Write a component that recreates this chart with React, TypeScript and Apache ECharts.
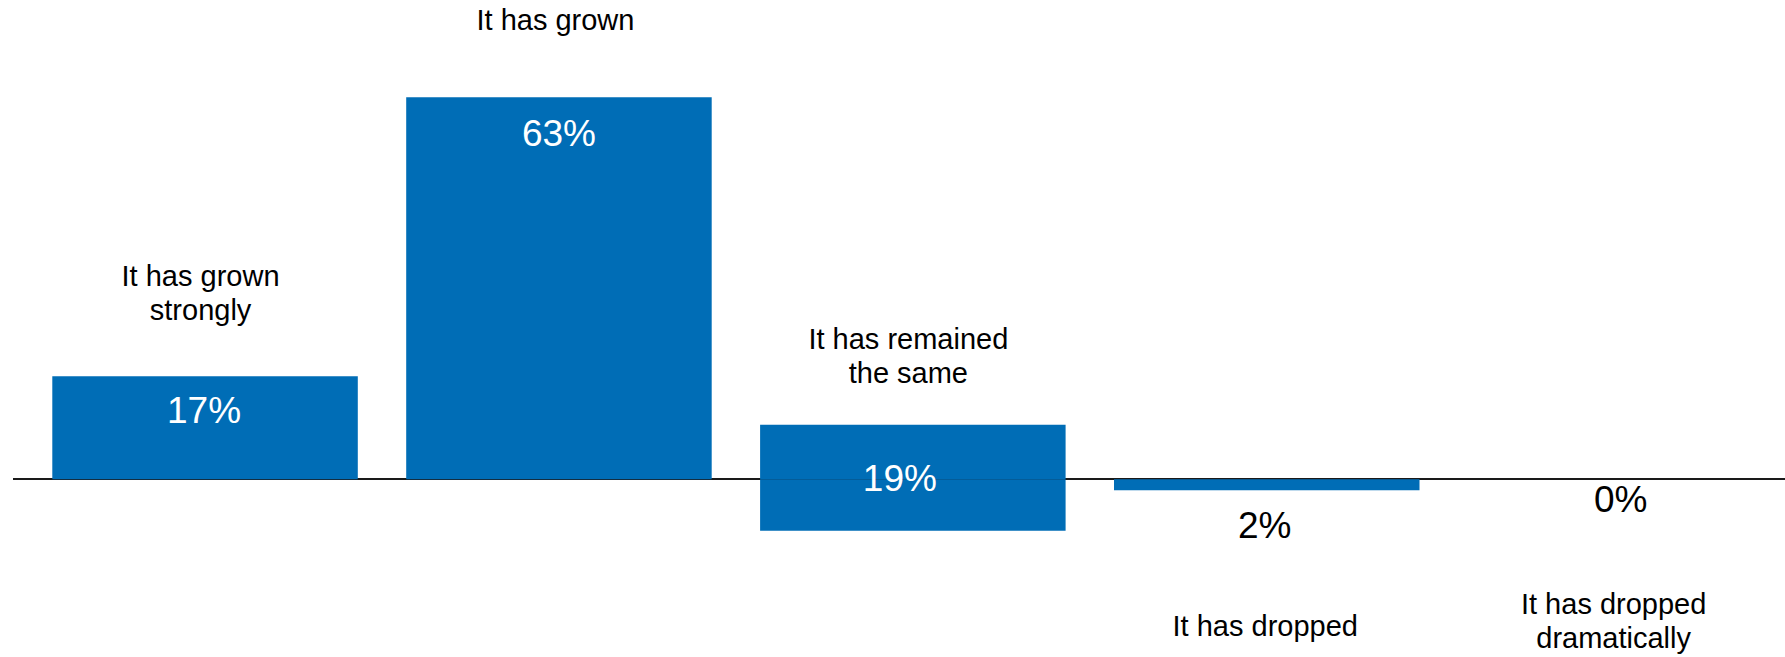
import React, { useEffect, useRef } from "react";
import * as echarts from "echarts";

// Category names (as laid out in the reference, with their line breaks)
const categories = [
  "It has grown\nstrongly",
  "It has grown",
  "It has remained\nthe same",
  "It has dropped",
  "It has dropped\ndramatically",
];
// Printed shares
const shareLabels = ["17%", "63%", "19%", "2%", "0%"];
// Bar extents (percentage points above / below the axis)
const aboveAxis = [17, 63, 9, 0, 0];
const belowAxis = [0, 0, -8.5, -1.8, 0];

const FONT = "'Liberation Sans', Arial, Helvetica, sans-serif";
const BLUE = "#006DB6";
const CHART_W = 1798;

export default function App() {
  const ref = useRef<HTMLDivElement>(null);

  useEffect(() => {
    if (!ref.current) return;
    const chart = echarts.init(ref.current, undefined, { renderer: "svg" });

    const valueLabelBase = {
      show: true,
      fontFamily: FONT,
      fontSize: 37,
      lineHeight: 37,
      color: "#ffffff",
      formatter: (p: any) => shareLabels[p.dataIndex],
    };

    const aboveLabels: any[] = [
      { ...valueLabelBase, position: "insideTop", distance: 15.5, offset: [-1, 0] },
      { ...valueLabelBase, position: "insideTop", distance: 17.5 },
      { ...valueLabelBase, position: "inside", offset: [-13, 26] },
      { show: false },
      { show: false },
    ];
    const belowLabels: any[] = [
      { show: false },
      { show: false },
      { show: false },
      { ...valueLabelBase, color: "#000000", position: "bottom", distance: 17, offset: [-2, 0] },
      { ...valueLabelBase, color: "#000000", position: "bottom", distance: 1.5 },
    ];
    const catLabelBase = {
      show: true,
      fontFamily: FONT,
      fontSize: 29,
      lineHeight: 34,
      color: "#000000",
      align: "center",
      formatter: (p: any) => categories[p.dataIndex],
    };
    const catLabels: any[] = [
      { ...catLabelBase, position: "top", distance: 49, offset: [-4.5, 0] },
      { ...catLabelBase, position: "top", distance: 60, offset: [-3.5, 0] },
      { ...catLabelBase, position: "top", distance: 35, offset: [-4.5, 0] },
      { ...catLabelBase, position: "bottom", distance: 119, offset: [-1.5, 0] },
      { ...catLabelBase, position: "bottom", distance: 108, offset: [-7, 0] },
    ];
    const outerExtent = aboveAxis.map((v, i) => (v > 0 ? v : belowAxis[i]));

    chart.setOption({
      animation: false,
      backgroundColor: "#ffffff",
      grid: { left: 28.1, right: 0.4, top: 54.9, bottom: 56.4, containLabel: false },
      xAxis: {
        type: "category",
        data: categories,
        axisLine: { show: false },
        axisTick: { show: false },
        axisLabel: { show: false },
        splitLine: { show: false },
      },
      yAxis: {
        type: "value",
        min: -20,
        max: 70,
        show: false,
        splitLine: { show: false },
      },
      series: [
        {
          name: "above",
          type: "bar",
          stack: "share",
          barWidth: 305.5,
          barGap: "-100%",
          itemStyle: { color: BLUE },
          data: aboveAxis.map((v, i) => ({ value: v, label: aboveLabels[i] })),
        },
        {
          name: "below",
          type: "bar",
          stack: "share",
          barWidth: 305.5,
          barGap: "-100%",
          itemStyle: { color: BLUE },
          data: belowAxis.map((v, i) => ({ value: v, label: belowLabels[i] })),
        },
        {
          name: "categories",
          type: "bar",
          barWidth: 305.5,
          barGap: "-100%",
          silent: true,
          itemStyle: { color: "rgba(0,0,0,0)" },
          data: outerExtent.map((v, i) => ({ value: v, label: catLabels[i] })),
          z: 3,
        },
      ],
    });

    // baseline (zero line) across the whole width, as in the reference
    const y0 = Math.round(chart.convertToPixel({ yAxisIndex: 0 }, 0) as number);
    chart.setOption({
      graphic: [
        {
          type: "line",
          shape: { x1: 13, y1: y0, x2: CHART_W, y2: y0 },
          style: { stroke: "#1a1a1a", lineWidth: 2 },
          z: 0,
          zlevel: 0,
        },
      ],
    });

    return () => chart.dispose();
  }, []);

  return (
    <div
      style={{ position: "fixed", left: 0, top: 0, width: 1785, height: 657, overflow: "hidden", background: "#fff" }}
    >
      <div ref={ref} style={{ width: CHART_W, height: 657 }} />
    </div>
  );
}
